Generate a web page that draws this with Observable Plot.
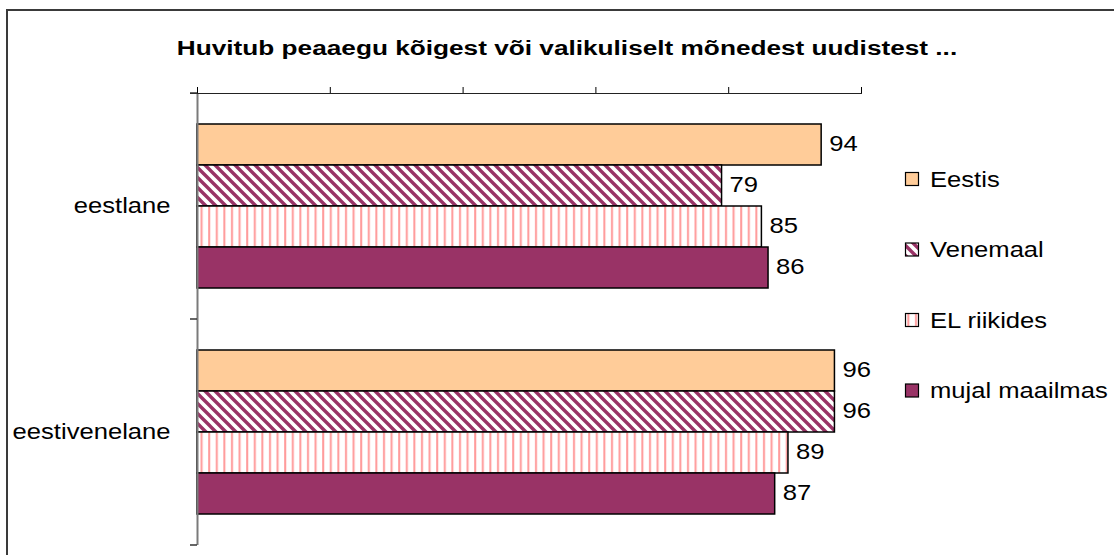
<!DOCTYPE html>
<html>
<head>
<meta charset="utf-8">
<script src="https://cdn.jsdelivr.net/npm/d3@7"></script>
<script src="https://cdn.jsdelivr.net/npm/@observablehq/plot@0.6"></script>
<style>
  html, body { margin: 0; padding: 0; background: #fff; }
  #wrap { position: relative; width: 1114px; height: 555px; overflow: hidden; font-family: "Liberation Sans", Arial, sans-serif; }
  #chart { position: absolute; left: 0; top: 0; }
  #overlay { position: absolute; left: 0; top: 0; pointer-events: none; }
  #border { position: absolute; left: 6px; top: 9px; width: 1300px; height: 800px; border: 2px solid #3a3a3a; pointer-events: none; }
  #title { position: absolute; top: 38px; left: 567px; white-space: nowrap; font-weight: bold; font-size: 20px; line-height: 20px; color: #000;
           transform: translateX(-50%) scaleX(1.31); transform-origin: center; }
</style>
</head>
<body>
<div id="wrap">
  <div id="chart"></div>
  <div id="title">Huvitub peaaegu kõigest või valikuliselt mõnedest uudistest ...</div>
  <div id="border"></div>
</div>
<script>
// ---- data ----
const groups = ["eestlane", "eestivenelane"];
const series = ["Eestis", "Venemaal", "EL riikides", "mujal maailmas"];
const eestlaneValues = [94, 79, 85, 86];
const eestivenelaneValues = [96, 96, 89, 87];
const xTicks = [0, 20, 40, 60, 80, 100];
const seriesFills = ["#FFCC99", "url(#pVenemaal)", "url(#pEL)", "#993366"];

const valuesByGroup = [eestlaneValues, eestivenelaneValues];
const data = groups.flatMap((g, gi) =>
  series.map((s, si) => ({group: g, series: s, value: valuesByGroup[gi][si], fill: seriesFills[si]}))
);

const STRETCH = 1.19;
const FONT = "'Liberation Sans', Arial, sans-serif";
const FONT_SIZE = 21.5;

// ---- overlay svg with pattern defs + legend ----
const wrap = d3.select("#wrap");
const overlay = wrap.append("svg").attr("id", "overlay").attr("width", 1114).attr("height", 555);
const defs = overlay.append("defs");
const pv = defs.append("pattern").attr("id", "pVenemaal").attr("patternUnits", "userSpaceOnUse")
  .attr("width", 10).attr("height", 10);
pv.append("rect").attr("width", 10).attr("height", 10).attr("fill", "#fff");
pv.append("path").attr("d", "M0,0L10,10M-5,5L5,15M5,-5L15,5")
  .attr("stroke", "#993366").attr("stroke-width", 3.4).attr("fill", "none");
const pe = defs.append("pattern").attr("id", "pEL").attr("patternUnits", "userSpaceOnUse")
  .attr("width", 7.6).attr("height", 8);
pe.append("rect").attr("width", 7.6).attr("height", 8).attr("fill", "#fff");
pe.append("rect").attr("x", 3).attr("width", 2).attr("height", 8).attr("fill", "#ff9a9a");

// ---- chart ----
const chart = Plot.plot({
  width: 1114,
  height: 555,
  marginLeft: 197,
  marginRight: 253,
  marginTop: 93,
  marginBottom: 10,
  style: {fontFamily: FONT, fontSize: FONT_SIZE + "px", background: "transparent", color: "#000", overflow: "visible"},
  facet: {data, y: "group"},
  x: {domain: [0, 100], axis: "top", ticks: xTicks, tickFormat: () => "", tickSize: 7, label: null},
  y: {domain: series, axis: null, paddingInner: 0, paddingOuter: 0.737},
  fy: {domain: groups, padding: 0, axis: "left", tickSize: 0, tickPadding: 27, label: null},
  color: {type: "identity"},
  marks: [
    Plot.barX(data, {x: "value", y: "series", fill: "fill", stroke: "#000", strokeWidth: 1.5}),
    Plot.text(data, {x: "value", y: "series", text: d => String(d.value), textAnchor: "start", dx: 7.5, dy: -1, fill: "#000"}),
    Plot.ruleX([0], {stroke: "#7a7a7a", strokeWidth: 2})
  ]
});
document.getElementById("chart").appendChild(chart);

// axis line on top and category boundary ticks on the left, from the plot's scales
const xs = chart.scale("x");
const xr = (xs && xs.range) ? xs.range : [197, 861];
let fyRange = [93, 545], fyDomain = groups;
try {
  const fs = chart.scale("fy");
  if (fs && fs.range) fyRange = fs.range;
  if (fs && fs.domain) fyDomain = fs.domain;
} catch (e) {}
const band = d3.scaleBand(fyDomain, fyRange).padding(0);
const bounds = [band(fyDomain[0]), ...fyDomain.map(d => band(d) + band.bandwidth())];
const g = d3.select(chart).append("g").attr("class", "extra-axes");
g.append("line").attr("x1", xr[0] - 7).attr("x2", xr[1] + 1).attr("y1", bounds[0] + 0.5).attr("y2", bounds[0] + 0.5)
  .attr("stroke", "#222").attr("stroke-width", 1);
bounds.forEach(b => {
  g.append("line").attr("x1", xr[0] - 7).attr("x2", xr[0]).attr("y1", b).attr("y2", b)
    .attr("stroke", "#333").attr("stroke-width", 1.5);
});

// stretch texts horizontally to match the reference
function stretch(sel) {
  sel.each(function() {
    if (!this.textContent.trim()) return;
    const len = this.getComputedTextLength();
    this.setAttribute("textLength", (len * STRETCH).toFixed(1));
    this.setAttribute("lengthAdjust", "spacingAndGlyphs");
  });
}
stretch(d3.select(chart).selectAll("text"));

// ---- legend ----
const legend = overlay.append("g").attr("font-family", FONT).attr("font-size", FONT_SIZE);
series.forEach((s, i) => {
  const cy = 179 + i * 70.5;
  legend.append("rect").attr("x", 905.5).attr("y", cy - 6.5).attr("width", 13).attr("height", 13)
    .attr("fill", seriesFills[i]).attr("stroke", "#000").attr("stroke-width", 1.2);
  legend.append("text").attr("x", 930).attr("y", cy).attr("dy", "0.35em").attr("fill", "#000").text(s);
});
stretch(legend.selectAll("text"));
</script>
</body>
</html>
